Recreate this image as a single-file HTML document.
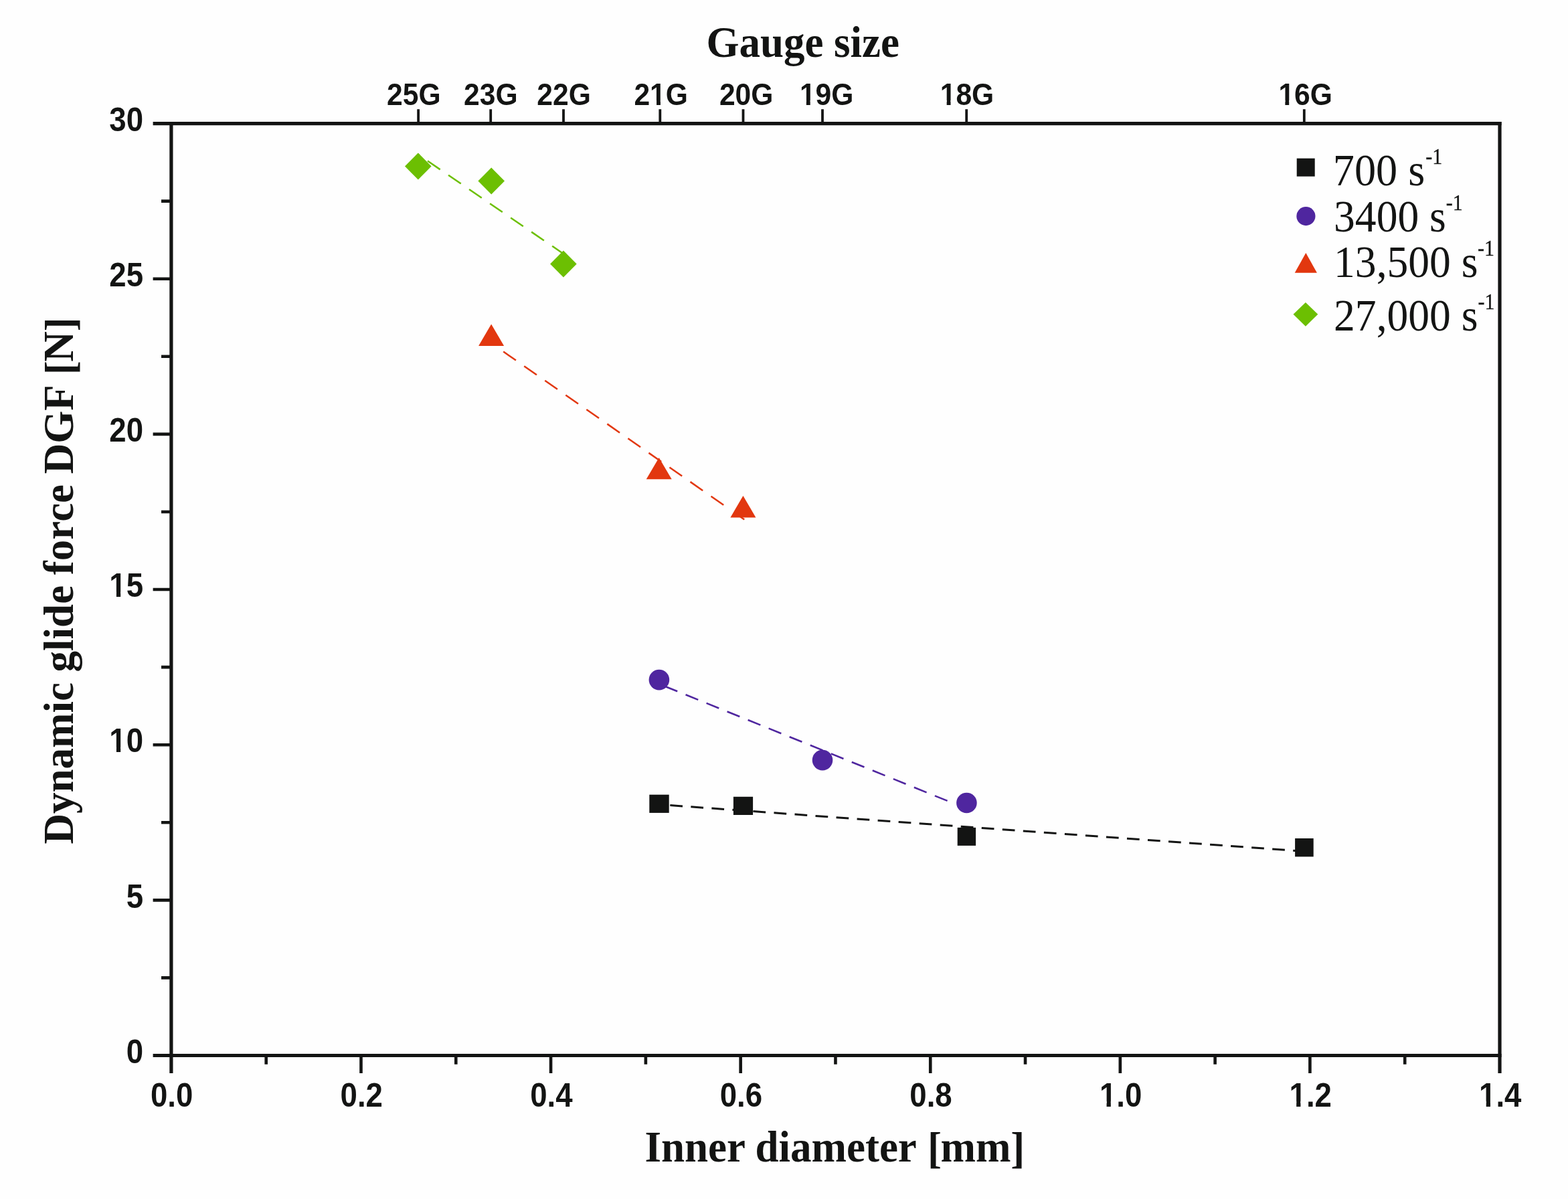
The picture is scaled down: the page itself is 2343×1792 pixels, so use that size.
<!DOCTYPE html>
<html lang="en">
<head>
<meta charset="utf-8">
<title>Dynamic glide force vs. inner diameter</title>
<style>
html,body{margin:0;padding:0;background:#fefefe;}
body{width:2343px;height:1792px;overflow:hidden;}
svg{display:block;filter:blur(0.6px);}
text{white-space:pre;}
.sans{font-family:"Liberation Sans",sans-serif;font-weight:bold;fill:#131413;}
.serifb{font-family:"Liberation Serif",serif;font-weight:bold;fill:#131413;}
.serif{font-family:"Liberation Serif",serif;fill:#131413;}
.tk{font-size:45.6px;}
.tp{font-size:43.5px;}
.ti{font-size:63px;}
.lg{font-size:64.2px;}
.sp{font-size:30px;stroke:#131413;stroke-width:0.25px;}
.ax{stroke:#131413;fill:none;}
.m{fill:#fefefe;stroke:none;}
</style>
</head>
<body>
<svg width="2343" height="1792" viewBox="0 0 2343 1792" role="img" aria-label="Dynamic glide force versus needle inner diameter">
<rect x="0" y="0" width="2343" height="1792" fill="#fefefe"/>
<g id="fits">
<path d="M984.9 1202.4L988.97 1202.7M1001.3 1203.59L1020 1204.95M1032.33 1205.85L1051.03 1207.21M1063.36 1208.1L1082.06 1209.46M1094.39 1210.36L1113.09 1211.71M1125.42 1212.61L1144.12 1213.97M1156.45 1214.87L1175.15 1216.22M1187.48 1217.12L1206.18 1218.48M1218.51 1219.38L1237.21 1220.73M1249.54 1221.63L1268.24 1222.99M1280.57 1223.88L1299.27 1225.24M1311.6 1226.14L1330.3 1227.5M1342.63 1228.39L1361.33 1229.75M1373.66 1230.65L1392.36 1232.01M1404.69 1232.9L1423.39 1234.26M1435.72 1235.16L1454.42 1236.52M1466.75 1237.41L1485.45 1238.77M1497.78 1239.67L1516.48 1241.03M1528.81 1241.92L1547.51 1243.28M1559.84 1244.18L1578.54 1245.54M1590.87 1246.43L1609.57 1247.79M1621.9 1248.69L1640.6 1250.05M1652.93 1250.94L1671.63 1252.3M1683.96 1253.2L1702.66 1254.56M1714.99 1255.45L1733.69 1256.81M1746.02 1257.71L1764.72 1259.07M1777.05 1259.96L1795.75 1261.32M1808.08 1262.22L1826.78 1263.58M1839.11 1264.47L1857.81 1265.83M1870.14 1266.73L1888.84 1268.08M1901.17 1268.98L1919.87 1270.34M1932.2 1271.24L1949.6 1272.5" stroke="#131413" stroke-width="3.0" fill="none"/>
<path d="M993.5 1025.69L1012.2 1033.27M1024.53 1038.28L1043.23 1045.86M1055.56 1050.86L1074.26 1058.45M1086.59 1063.45L1105.29 1071.04M1117.62 1076.04L1136.32 1083.62M1148.65 1088.63L1167.35 1096.21M1179.68 1101.21L1198.38 1108.8M1210.71 1113.8L1229.41 1121.39M1241.74 1126.39L1260.44 1133.98M1272.77 1138.98L1291.47 1146.56M1303.8 1151.56L1322.5 1159.15M1334.83 1164.15L1353.53 1171.74M1365.86 1176.74L1384.56 1184.33M1396.89 1189.33L1415.59 1196.91M1432 1203.57L1444.4 1208.6" stroke="#4f269f" stroke-width="2.6" fill="none"/>
<path d="M752.2 525.55L770.9 538.58M783.23 547.17L801.93 560.2M814.26 568.79L832.96 581.82M845.29 590.41L863.99 603.44M876.32 612.03L895.02 625.06M907.35 633.65L926.05 646.68M938.38 655.27L957.08 668.3M969.41 676.89L988.11 689.92M1000.44 698.51L1019.14 711.54M1031.47 720.14L1050.17 733.16M1062.5 741.76L1081.2 754.78M1099 767.19L1112.23 776.41" stroke="#e2370f" stroke-width="2.5" fill="none"/>
<path d="M624.4 230.6L626.67 232.15M639 240.58L657.7 253.36M670.03 261.79L688.73 274.57M701.06 283L719.76 295.78M732.09 304.21L750.79 316.99M763.12 325.42L781.82 338.2M794.15 346.63L812.85 359.41M825.18 367.84L841.8 379.2" stroke="#6cbf02" stroke-width="2.5" fill="none"/>
</g>
<g id="axes" class="ax">
<path d="M228.6 184.6H2243.6" stroke-width="5.2"/>
<path d="M228.6 1577.5H2243.6" stroke-width="5.2"/>
<path d="M255.9 182V1604" stroke-width="5.2"/>
<path d="M2241 182V1604" stroke-width="5.2"/>
<path d="M241 1461.42H255.9M228.6 1345.35H255.9M241 1229.28H255.9M228.6 1113.2H255.9M241 997.12H255.9M228.6 881.05H255.9M241 764.98H255.9M228.6 648.9H255.9M241 532.82H255.9M228.6 416.75H255.9M241 300.67H255.9" stroke-width="4.6"/>
<path d="M397.69 1577.5V1590.8M539.49 1577.5V1604M681.28 1577.5V1590.8M823.07 1577.5V1604M964.86 1577.5V1590.8M1106.66 1577.5V1604M1248.45 1577.5V1590.8M1390.24 1577.5V1604M1532.04 1577.5V1590.8M1673.83 1577.5V1604M1815.62 1577.5V1590.8M1957.41 1577.5V1604M2099.21 1577.5V1590.8" stroke-width="4.6"/>
<path d="M625.1 163.2V184.6M733.2 163.2V184.6M842 163.2V184.6M986.3 163.2V184.6M1110.5 163.2V184.6M1229 163.2V184.6M1444.2 163.2V184.6M1948.8 163.2V184.6" stroke-width="3.8"/>
</g>
<g id="ylabels" class="sans tk">
<g transform="translate(188.64 1588.7) scale(1 1.09)"><text>0</text></g>
<g transform="translate(188.64 1356.55) scale(1 1.09)"><text>5</text></g>
<g transform="translate(163.28 1124.4) scale(1 1.09)"><text>10</text><rect class="m" x="2" y="-7.1" width="8.64" height="8.44"/><rect class="m" x="16.9" y="-7.1" width="7.86" height="8.44"/></g>
<g transform="translate(163.28 892.25) scale(1 1.09)"><text>15</text><rect class="m" x="2" y="-7.1" width="8.64" height="8.44"/><rect class="m" x="16.9" y="-7.1" width="7.86" height="8.44"/></g>
<g transform="translate(163.28 660.1) scale(1 1.09)"><text>20</text></g>
<g transform="translate(163.28 427.95) scale(1 1.09)"><text>25</text></g>
<g transform="translate(163.28 195.8) scale(1 1.09)"><text>30</text></g>
</g>
<g id="xlabels" class="sans tk">
<g transform="translate(225 1653.6) scale(1 1.09)"><text>0.0</text></g>
<g transform="translate(508.59 1653.6) scale(1 1.09)"><text>0.2</text></g>
<g transform="translate(792.18 1653.6) scale(1 1.09)"><text>0.4</text></g>
<g transform="translate(1075.76 1653.6) scale(1 1.09)"><text>0.6</text></g>
<g transform="translate(1359.35 1653.6) scale(1 1.09)"><text>0.8</text></g>
<g transform="translate(1642.93 1653.6) scale(1 1.09)"><text>1.0</text><rect class="m" x="2" y="-7.1" width="8.64" height="8.44"/><rect class="m" x="16.9" y="-7.1" width="7.86" height="8.44"/></g>
<g transform="translate(1926.52 1653.6) scale(1 1.09)"><text>1.2</text><rect class="m" x="2" y="-7.1" width="8.64" height="8.44"/><rect class="m" x="16.9" y="-7.1" width="7.86" height="8.44"/></g>
<g transform="translate(2210.1 1653.6) scale(1 1.09)"><text>1.4</text><rect class="m" x="2" y="-7.1" width="8.64" height="8.44"/><rect class="m" x="16.9" y="-7.1" width="7.86" height="8.44"/></g>
</g>
<g id="gauge" class="sans tp">
<g transform="translate(578.11 157.3) scale(0.98 1.08)"><text>25G</text></g>
<g transform="translate(693.11 157.3) scale(0.98 1.08)"><text>23G</text></g>
<g transform="translate(802.31 157.3) scale(0.98 1.08)"><text>22G</text></g>
<g transform="translate(947.41 157.3) scale(0.98 1.08)"><text>21G</text><rect class="m" x="26.1" y="-6.78" width="8.24" height="8.05"/><rect class="m" x="40.31" y="-6.78" width="7.5" height="8.05"/></g>
<g transform="translate(1074.91 157.3) scale(0.98 1.08)"><text>20G</text></g>
<g transform="translate(1194.91 157.3) scale(0.98 1.08)"><text>19G</text><rect class="m" x="1.91" y="-6.78" width="8.24" height="8.05"/><rect class="m" x="16.12" y="-6.78" width="7.5" height="8.05"/></g>
<g transform="translate(1404.71 157.3) scale(0.98 1.08)"><text>18G</text><rect class="m" x="1.91" y="-6.78" width="8.24" height="8.05"/><rect class="m" x="16.12" y="-6.78" width="7.5" height="8.05"/></g>
<g transform="translate(1910.41 157.3) scale(0.98 1.08)"><text>16G</text><rect class="m" x="1.91" y="-6.78" width="8.24" height="8.05"/><rect class="m" x="16.12" y="-6.78" width="7.5" height="8.05"/></g>
</g>
<text class="serifb ti" transform="translate(1055.4 84.7) scale(1 1.05)">Gauge size</text>
<text class="serifb ti" transform="translate(963.4 1735.6) scale(1 1.05)">Inner diameter <tspan dx="1.6" dy="2.3">[</tspan><tspan dx="-1.6" dy="-2.3">mm</tspan><tspan dy="2.3">]</tspan></text>
<text class="serifb ti" transform="translate(108.8 1261.6) rotate(-90) scale(1 1.02)">Dynamic glide force DGF <tspan dx="1.6" dy="2.3">[</tspan><tspan dx="-1.6" dy="-2.3">N</tspan><tspan dy="2.3">]</tspan></text>
<g id="series-700">
<rect x="970.3" y="1187.7" width="29.4" height="27.2" fill="#131413"/>
<rect x="1095.9" y="1190.8" width="29.2" height="27.2" fill="#131413"/>
<rect x="1430.7" y="1236.9" width="27.4" height="27" fill="#131413"/>
<rect x="1935.1" y="1253" width="27.6" height="27.4" fill="#131413"/>
</g>
<g id="series-3400">
<circle cx="984.9" cy="1016.1" r="15.3" fill="#4f269f"/>
<circle cx="1229" cy="1136.1" r="15.3" fill="#4f269f"/>
<circle cx="1444.4" cy="1200" r="15.3" fill="#4f269f"/>
</g>
<g id="series-13500">
<path d="M734.1 484.5L753.1 516.9H715.1Z" fill="#e2370f"/>
<path d="M984.7 683.9L1003.7 716.3H965.7Z" fill="#e2370f"/>
<path d="M1110.4 741L1129.4 773.4H1091.4Z" fill="#e2370f"/>
</g>
<g id="series-27000">
<path d="M624.8 228.6L644.6 248.6L624.8 268.6L605 248.6Z" fill="#6cbf02"/>
<path d="M734.2 250.6L754 270.6L734.2 290.6L714.4 270.6Z" fill="#6cbf02"/>
<path d="M841.9 374.6L861.7 394.6L841.9 414.6L822.1 394.6Z" fill="#6cbf02"/>
</g>
<g id="legend">
<rect x="1937.7" y="236.7" width="27" height="27" fill="#131413"/>
<circle cx="1951.4" cy="323.1" r="14.1" fill="#4f269f"/>
<path d="M1951.3 377.9L1967.9 407.7H1934.7Z" fill="#e2370f"/>
<path d="M1950.9 451.9L1969.3 469.8L1950.9 487.7L1932.5 469.8Z" fill="#6cbf02"/>
<text class="serif lg" transform="translate(1991.8 276.5) scale(1 1.05)">700 s</text>
<text class="serif sp" transform="translate(2130.3 244.5) scale(1 1.1)">-1</text>
<text class="serif lg" transform="translate(1993.1 345.7) scale(0.99 1.05)">3400 s</text>
<text class="serif sp" transform="translate(2160.7 313.7) scale(1 1.1)">-1</text>
<text class="serif lg" transform="translate(1993.1 413.9) scale(0.99 1.05)">13,500 s</text>
<text class="serif sp" transform="translate(2207.9 381.9) scale(1 1.1)">-1</text>
<text class="serif lg" transform="translate(1993.1 493.9) scale(0.99 1.05)">27,000 s</text>
<text class="serif sp" transform="translate(2208.6 461.9) scale(1 1.1)">-1</text>
</g>
</svg>
</body>
</html>
